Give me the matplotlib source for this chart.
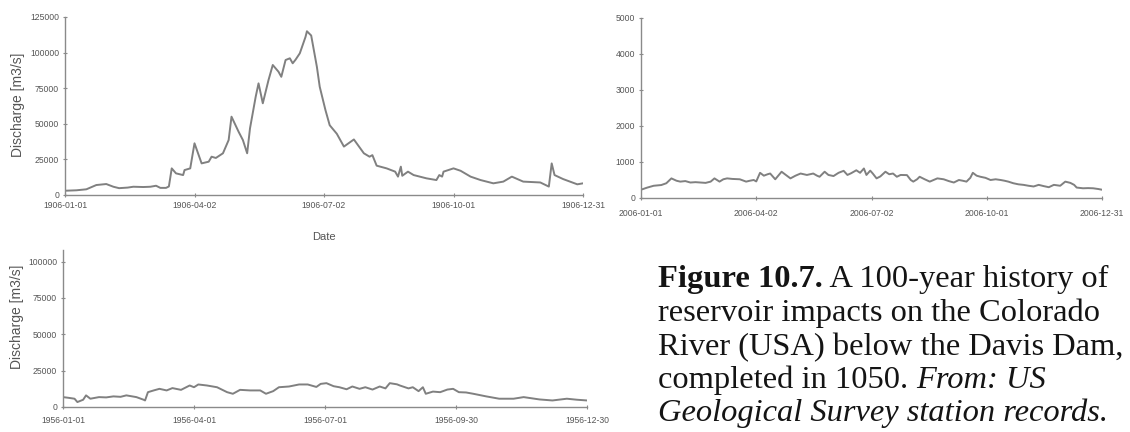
import numpy as np
import matplotlib
matplotlib.use("Agg")
import matplotlib.pyplot as plt

# ---------------- data ----------------
# 1906 (pre-dam) daily discharge, sampled: day-of-year offsets and values
days_1906 = [0, 8, 15, 22, 29, 34, 38, 44, 48, 55, 60, 64, 67, 71, 73, 75, 78, 83, 84, 88,
             91, 96, 101, 103, 106, 111, 115, 117, 122, 125, 128, 130, 134, 136, 139, 143,
             146, 150, 152, 155, 158, 160, 162, 165, 169, 170, 173, 177, 179, 183, 186, 191,
             196, 203, 210, 214, 216, 219, 226, 232, 234, 236, 237, 241, 245, 254, 261, 263,
             265, 266, 273, 278, 285, 292, 301, 308, 314, 322, 334, 340, 342, 344, 350, 360, 364]
vals_1906 = [3000, 3300, 4000, 7000, 7700, 5800, 4800, 5200, 5800, 5600, 5800, 6500, 5000, 5000,
             6000, 18700, 15200, 14000, 17500, 18700,
             36300, 22200, 23400, 26900, 26000, 29300, 38600, 55000, 44400, 38600, 29300, 46800,
             69000, 78400, 64400, 80700, 91300, 86600, 83000, 94800, 96000, 92500, 95000, 99500,
             111000, 115000, 112000, 90000, 76000, 59700, 49000, 43000,
             34000, 39000, 29300, 26900, 28000, 20600, 18700, 16400, 12900, 19900, 13500, 16400,
             14000, 11700, 10500, 14000, 12900, 16400, 18700, 17000, 12900, 10500, 8200, 9400,
             12900, 9400, 8800, 5900, 22200, 14000, 11200, 7500, 8200]

# 1956 daily discharge
days_1956 = [0, 4, 8, 10, 14, 16, 19, 25, 30, 35, 40, 44, 51, 56, 57, 59, 63, 67, 72, 76, 82,
             88, 91, 94, 100, 107, 114, 118, 123, 130, 137, 141, 146, 150, 157, 164, 170, 176,
             179, 183, 188, 192, 197, 201, 206, 210, 215, 220, 224, 227, 232, 234, 240, 243,
             247, 250, 252, 257, 262, 267, 271, 275, 280, 285, 294, 303, 313, 320, 331, 340,
             350, 357, 364]
vals_1956 = [6800, 6300, 5700, 3400, 5000, 8000, 5700, 6800, 6600, 7300, 7000, 8000, 6800, 5000,
             4500, 10200, 11400, 12500, 11400, 13000, 11800, 14800, 13600, 15500, 14800, 13600,
             10200, 9100, 11800, 11400, 11400, 9100, 10900, 13600, 14100, 15500, 15500, 13800,
             15900, 16400, 14300, 13600, 12200, 14100, 12500, 13600, 12000, 14100, 12800, 16400,
             15600, 14800, 12800, 13600, 10900, 13600, 9100, 10600, 10200, 12000, 12500, 10200,
             10000, 9100, 7300, 5700, 5700, 6800, 5200, 4500, 5700, 5000, 4500]

# 2006 daily discharge
days_2006 = [0, 5, 10, 16, 20, 24, 28, 31, 35, 39, 43, 47, 51, 55, 58, 62, 65, 68, 72, 78, 83,
             86, 89, 91, 94, 97, 100, 102, 106, 111, 114, 118, 122, 126, 131, 136, 139, 141,
             145, 148, 152, 156, 160, 163, 166, 170, 173, 176, 178, 181, 183, 186, 189, 193,
             196, 199, 202, 205, 210, 213, 215, 218, 220, 224, 228, 231, 234, 239, 243, 247,
             251, 254, 257, 260, 262, 265, 268, 272, 276, 280, 284, 287, 290, 294, 298, 302,
             306, 310, 314, 318, 322, 326, 331, 335, 339, 342, 344, 349, 353, 357, 361, 364]
vals_2006 = [230, 290, 340, 360, 410, 545, 480, 455, 470, 430, 440, 430, 420, 455, 545, 455, 520,
             545, 530, 520, 455, 480, 500, 460, 700, 620, 660, 680, 520, 730, 650, 545, 620, 680,
             640, 680, 620, 590, 730, 640, 610, 700, 755, 640, 690, 770, 700, 820, 640, 760, 680,
             545, 600, 730, 660, 680, 590, 640, 636, 500, 455, 520, 590, 520, 455, 500, 545, 520,
             470, 430, 500, 480, 455, 560, 700, 620, 590, 560, 500, 520, 500, 480, 455, 410, 380,
             365, 340, 320, 365, 330, 300, 365, 340, 455, 420, 365, 290, 270, 275, 270, 250, 230]

tick_1906 = ["1906-01-01", "1906-04-02", "1906-07-02", "1906-10-01", "1906-12-31"]
tick_2006 = ["2006-01-01", "2006-04-02", "2006-07-02", "2006-10-01", "2006-12-31"]
tick_1956 = ["1956-01-01", "1956-04-01", "1956-07-01", "1956-09-30", "1956-12-30"]

yt_1906 = [0, 25000, 50000, 75000, 100000, 125000]
yt_2006 = [0, 1000, 2000, 3000, 4000, 5000]
yt_1956 = [0, 25000, 50000, 75000, 100000]

ylabel = "Discharge [m3/s]"
xlabel = "Date"

cap_lines = [
    [("Figure 10.7.", "bold", "normal"), (" A 100-year history of", "normal", "normal")],
    [("reservoir impacts on the Colorado", "normal", "normal")],
    [("River (USA) below the Davis Dam,", "normal", "normal")],
    [("completed in 1050. ", "normal", "normal"), ("From: US", "normal", "italic")],
    [("Geological Survey station records.", "normal", "italic")],
]

# ---------------- figure ----------------
W, H = 1130, 432
fig = plt.figure(figsize=(W / 100, H / 100), dpi=100)
plt.rcParams['font.family'] = ['Liberation Sans', 'DejaVu Sans']

LINE_C = "#808080"
AX_C = "#8a8a8a"
TXT_C = "#555555"


def to_dates(year, days):
    return np.datetime64(f"{year}-01-01") + np.array(days, dtype="timedelta64[D]")


def make_ax(rect_px, year, days, vals, ticks, yticks, ylim, xpad, ylab_xy):
    l, t, r, b = rect_px
    ax = fig.add_axes([l / W, 1 - b / H, (r - l) / W, (b - t) / H])
    x = to_dates(year, days)
    ax.plot(x, vals, color=LINE_C, lw=1.4, solid_joinstyle="round")
    tdates = np.array(ticks, dtype="datetime64[D]")
    ax.set_xlim(tdates[0], tdates[-1])
    ax.set_xticks(tdates)
    ax.set_xticklabels(ticks)
    ax.set_ylim(*ylim)
    ax.set_yticks(yticks)
    ax.set_yticklabels([str(v) for v in yticks])
    for s in ("top", "right"):
        ax.spines[s].set_visible(False)
    for s in ("left", "bottom"):
        ax.spines[s].set_color(AX_C)
        ax.spines[s].set_linewidth(1.0)
    ax.tick_params(axis="x", length=2.5, width=0.8, color=AX_C, direction="inout",
                   labelsize=6.2, labelcolor=TXT_C, pad=xpad)
    ax.tick_params(axis="y", length=2.5, width=0.8, color=AX_C, direction="inout",
                   labelsize=6.2, labelcolor=TXT_C, pad=3)
    ax.set_facecolor("none")
    if ylab_xy is not None:
        ax.set_ylabel(ylabel, fontsize=10, color=TXT_C)
        ax.yaxis.set_label_coords(*ylab_xy)
        ax.yaxis.label.set_va("center")
    return ax


ax1 = make_ax((65, 17, 583, 195), 1906, days_1906, vals_1906, tick_1906, yt_1906,
              (0, 125000), 3, ((18 - 65) / 518, (195 - 105) / 178))
ax1.set_xlabel(xlabel, fontsize=8, color=TXT_C, labelpad=16)

ax2 = make_ax((641, 18, 1102, 198), 2006, days_2006, vals_2006, tick_2006, yt_2006,
              (0, 5000), 7, None)

ax3 = make_ax((63, 250, 587, 407), 1956, days_1956, vals_1956, tick_1956, yt_1956,
              (0, 108000), 5, ((17 - 63) / 524, (407 - 317) / 157))

# ---------------- caption ----------------
renderer = fig.canvas.get_renderer()
fs = 23.4
x0 = 658
baselines = [287, 321, 355, 388, 421]
for line, yb in zip(cap_lines, baselines):
    xcur = x0
    for txt, wt, st in line:
        t = fig.text(xcur / W, 1 - yb / H, txt, fontsize=fs, fontweight=wt, fontstyle=st,
                     family=["Liberation Serif", "DejaVu Serif"], color="#141414",
                     va="baseline", ha="left")
        bb = t.get_window_extent(renderer)
        xcur = bb.x1

fig.savefig("out.png", dpi=100, facecolor="white")
